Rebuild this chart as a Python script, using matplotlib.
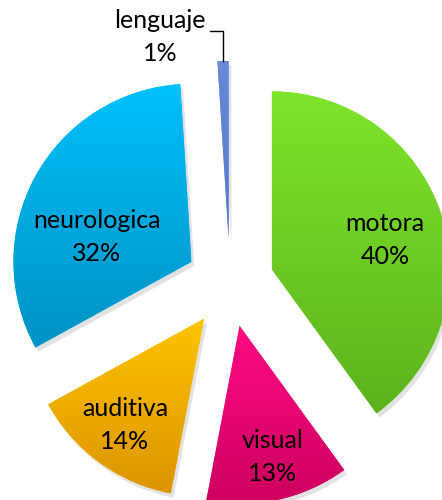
import numpy as np
import matplotlib.pyplot as plt
import matplotlib.patches as mpatches
from matplotlib.colors import LinearSegmentedColormap

# data
labels = ['motora', 'visual', 'auditiva', 'neurologica', 'lenguaje']
values = [40, 13, 14, 32, 1]
top_colors = ['#7fe52b', '#ff0a84', '#ffc400', '#00c0fa', '#6a8ad8']
bottom_colors = ['#5cb21e', '#cc005e', '#dc9400', '#0092c4', '#5575c8']

W, H = 442, 500
cx, cy = 230, 217      # pie centre in pixel coords (y up)
R = 178
EXPL = 44

fig = plt.figure(figsize=(W / 100, H / 100), dpi=100)
ax = fig.add_axes([0, 0, 1, 1])

wedges, _ = ax.pie(values, startangle=90, counterclock=False, radius=R,
                   center=(cx, cy), explode=[EXPL] * len(values),
                   colors=top_colors, wedgeprops=dict(linewidth=0))

for w, c1, c2 in zip(wedges, top_colors, bottom_colors):
    sh = mpatches.Shadow(w, 2, -3, alpha=0.18)
    sh.set_facecolor('#606060')
    sh.set_zorder(0.5)
    ax.add_patch(sh)
    bb = w.get_path().get_extents()
    cmap = LinearSegmentedColormap.from_list('g', [c2, c1])
    grad = np.linspace(0, 1, 256).reshape(-1, 1)
    im = ax.imshow(grad, cmap=cmap, origin='lower', aspect='auto',
                   extent=(bb.x0, bb.x1, bb.y0, bb.y1), zorder=2)
    im.set_clip_path(w)

txt = dict(ha='center', va='center', fontsize=18, family='Lato',
           color='black', linespacing=1.5, zorder=5)
ax.text(385, 260, 'motora\n40%', **txt)
ax.text(273, 43, 'visual\n13%', **txt)
ax.text(125, 75, 'auditiva\n14%', **txt)
ax.text(97, 263, 'neurologica\n32%', **txt)
ax.text(160, 463, 'lenguaje\n1%', **txt)

# leader line for lenguaje
ax.plot([210, 223, 223], [469, 469, 439], color='black', lw=1, zorder=5)

ax.set_xlim(0, W)
ax.set_ylim(0, H)
ax.set_aspect('equal')
ax.axis('off')

fig.savefig('out.png', dpi=100)
